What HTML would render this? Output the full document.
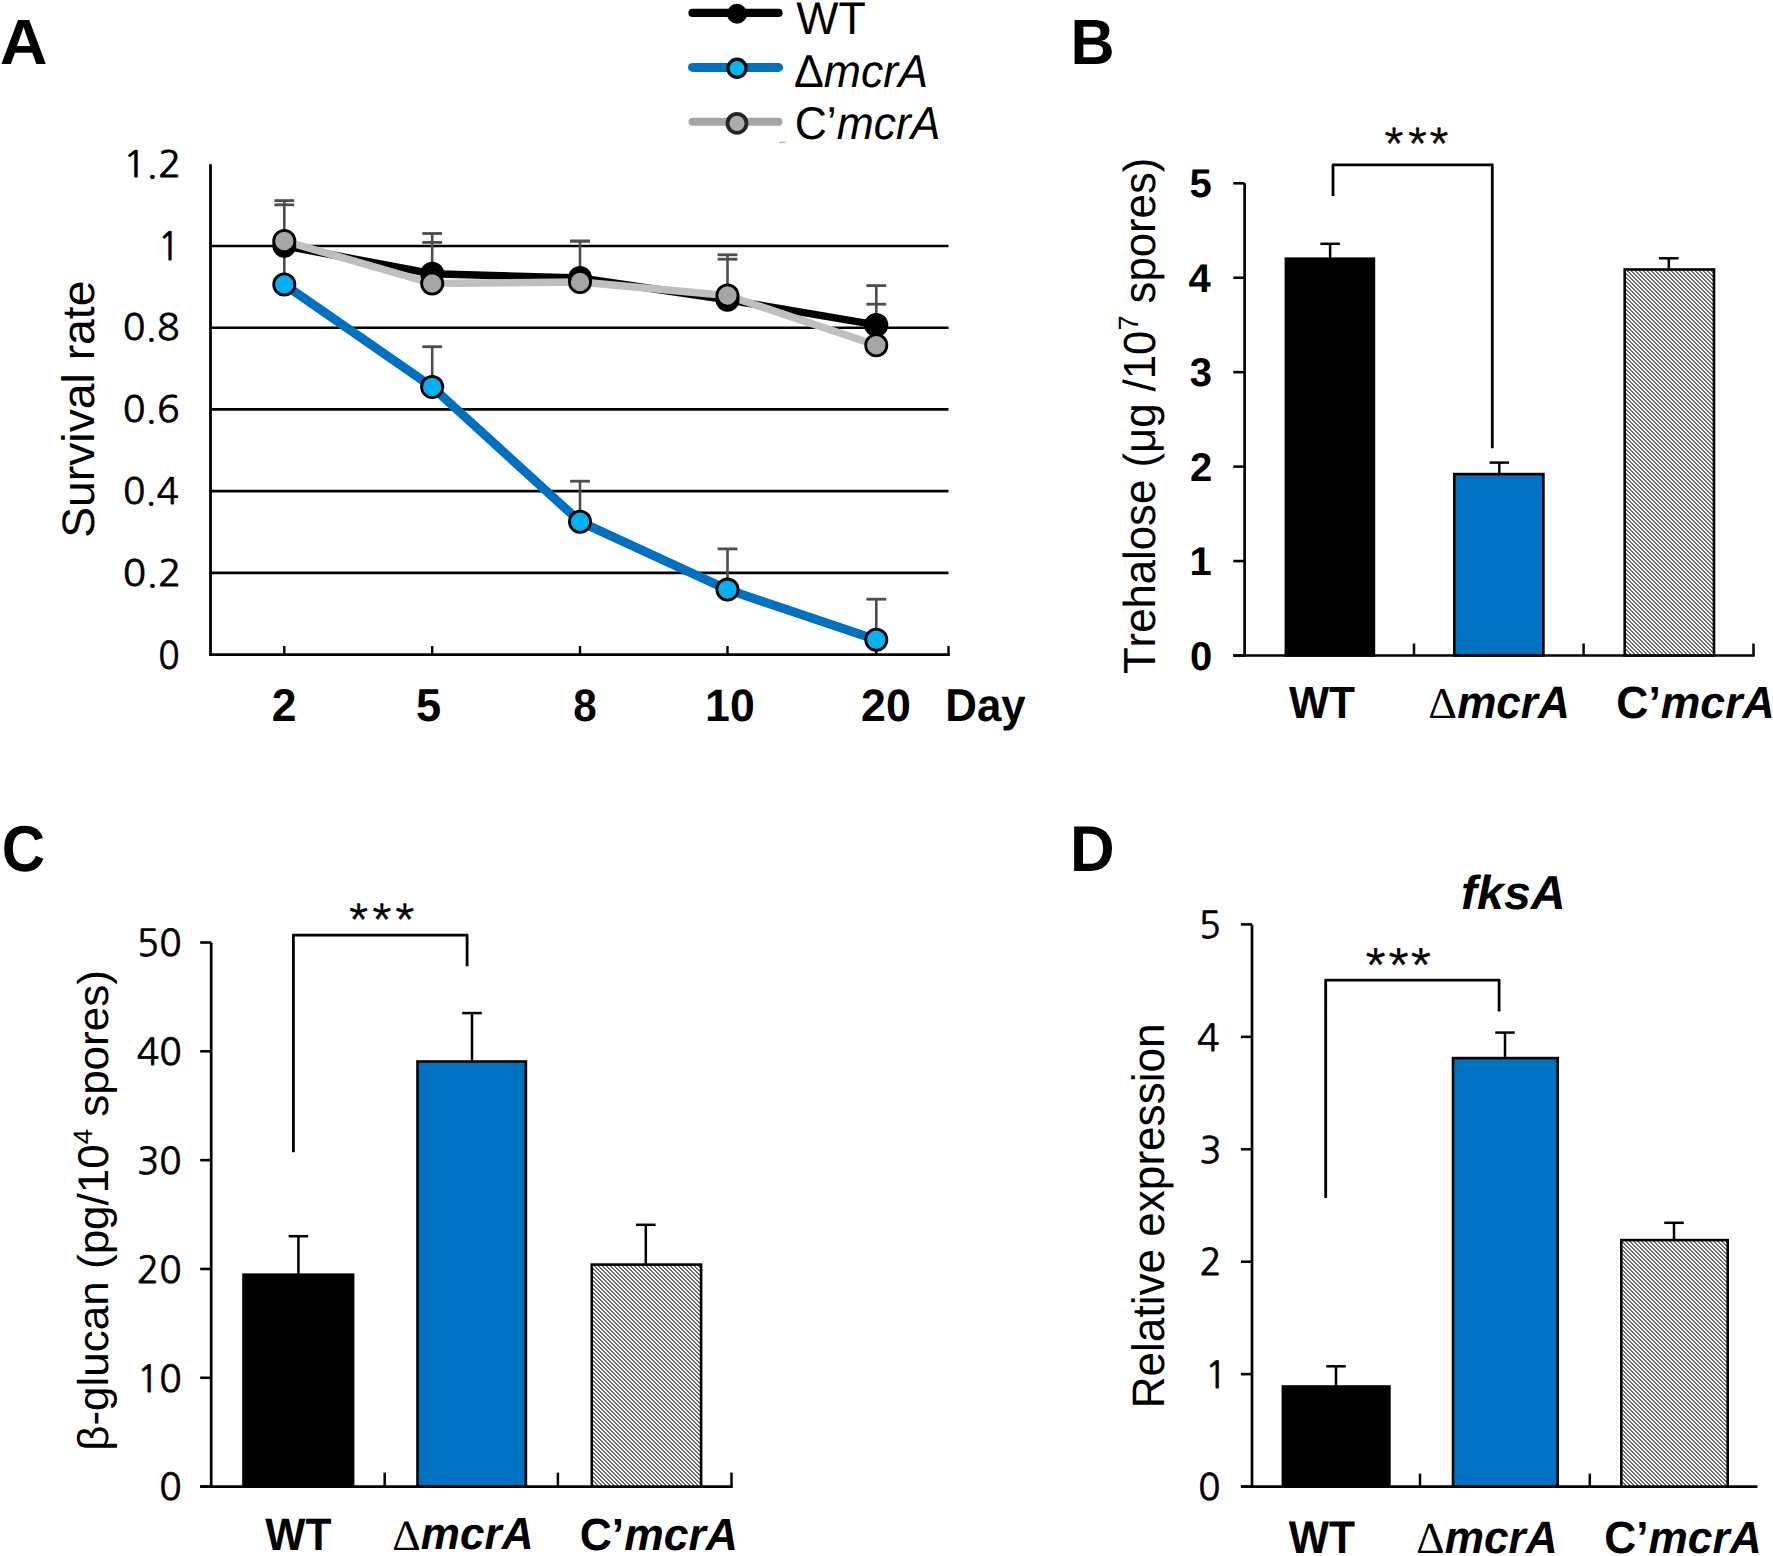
<!DOCTYPE html><html><head><meta charset="utf-8"><style>html,body{margin:0;padding:0;background:#fff;overflow:hidden}svg{display:block}text{font-family:"Liberation Sans", Arial, sans-serif;font-kerning:none;text-rendering:geometricPrecision}</style></head><body>
<svg width="1773" height="1556" viewBox="0 0 1773 1556">
<defs><filter id="soft" x="-10%" y="-10%" width="120%" height="120%"><feGaussianBlur stdDeviation="0.6"/></filter><pattern id="hatch" patternUnits="userSpaceOnUse" x="0" y="0" width="4" height="4"><rect width="4" height="4" fill="#fff"/><rect x="0" y="0" width="1" height="1" fill="#6e6e6e"/><rect x="1" y="0" width="1" height="1" fill="#6e6e6e"/><rect x="1" y="1" width="1" height="1" fill="#6e6e6e"/><rect x="2" y="1" width="1" height="1" fill="#6e6e6e"/><rect x="2" y="2" width="1" height="1" fill="#6e6e6e"/><rect x="3" y="2" width="1" height="1" fill="#6e6e6e"/><rect x="3" y="3" width="1" height="1" fill="#6e6e6e"/><rect x="0" y="3" width="1" height="1" fill="#6e6e6e"/></pattern></defs>
<rect width="1773" height="1556" fill="#fff"/>
<text transform="translate(-0.25,64.30) scale(1.0372,1)" font-size="63.809" fill="#000"><tspan font-weight="bold">A</tspan></text>
<text transform="translate(1070.41,64.30) scale(0.9563,1)" font-size="63.955" fill="#000"><tspan font-weight="bold">B</tspan></text>
<text transform="translate(1.64,870.77) scale(0.9228,1)" font-size="64.971" fill="#000"><tspan font-weight="bold">C</tspan></text>
<text transform="translate(1070.07,870.60) scale(0.9576,1)" font-size="64.536" fill="#000"><tspan font-weight="bold">D</tspan></text>
<line x1="210.50" y1="572.84" x2="948.50" y2="572.84" stroke="#000" stroke-width="2.60" stroke-linecap="butt"/>
<line x1="210.50" y1="491.13" x2="948.50" y2="491.13" stroke="#000" stroke-width="2.60" stroke-linecap="butt"/>
<line x1="210.50" y1="409.41" x2="948.50" y2="409.41" stroke="#000" stroke-width="2.60" stroke-linecap="butt"/>
<line x1="210.50" y1="327.70" x2="948.50" y2="327.70" stroke="#000" stroke-width="2.60" stroke-linecap="butt"/>
<line x1="210.50" y1="245.99" x2="948.50" y2="245.99" stroke="#000" stroke-width="2.60" stroke-linecap="butt"/>
<line x1="210.50" y1="164.28" x2="210.50" y2="655.85" stroke="#000" stroke-width="2.80" stroke-linecap="butt"/>
<line x1="209.10" y1="654.55" x2="949.80" y2="654.55" stroke="#000" stroke-width="2.80" stroke-linecap="butt"/>
<line x1="284.30" y1="654.55" x2="284.30" y2="646.05" stroke="#000" stroke-width="2.40" stroke-linecap="butt"/>
<line x1="432.20" y1="654.55" x2="432.20" y2="646.05" stroke="#000" stroke-width="2.40" stroke-linecap="butt"/>
<line x1="580.00" y1="654.55" x2="580.00" y2="646.05" stroke="#000" stroke-width="2.40" stroke-linecap="butt"/>
<line x1="727.50" y1="654.55" x2="727.50" y2="646.05" stroke="#000" stroke-width="2.40" stroke-linecap="butt"/>
<line x1="876.30" y1="654.55" x2="876.30" y2="646.05" stroke="#000" stroke-width="2.40" stroke-linecap="butt"/>
<line x1="948.50" y1="654.55" x2="948.50" y2="646.05" stroke="#000" stroke-width="2.40" stroke-linecap="butt"/>
<text transform="translate(158.20,668.73) scale(0.9236,1)" font-size="38.228" fill="#000" stroke="#000" stroke-width="0.7" stroke-linejoin="round"><tspan font-family="NanumGothic, Liberation Sans, sans-serif">0</tspan></text>
<text transform="translate(122.80,585.62) scale(1.0646,1)" font-size="36.261" fill="#000" stroke="#000" stroke-width="0.7" stroke-linejoin="round"><tspan font-family="NanumGothic, Liberation Sans, sans-serif">0.2</tspan></text>
<text transform="translate(122.90,503.90) scale(1.0163,1)" font-size="36.352" fill="#000" stroke="#000" stroke-width="0.7" stroke-linejoin="round"><tspan font-family="NanumGothic, Liberation Sans, sans-serif">0.4</tspan></text>
<text transform="translate(122.86,422.20) scale(1.0349,1)" font-size="36.261" fill="#000" stroke="#000" stroke-width="0.7" stroke-linejoin="round"><tspan font-family="NanumGothic, Liberation Sans, sans-serif">0.6</tspan></text>
<text transform="translate(122.87,340.48) scale(1.0320,1)" font-size="36.261" fill="#000" stroke="#000" stroke-width="0.7" stroke-linejoin="round"><tspan font-family="NanumGothic, Liberation Sans, sans-serif">0.8</tspan></text>
<text transform="translate(157.86,260.32) scale(0.9438,1)" font-size="38.740" fill="#000" stroke="#000" stroke-width="0.7" stroke-linejoin="round"><tspan font-family="NanumGothic, Liberation Sans, sans-serif">1</tspan></text>
<text transform="translate(122.88,177.06) scale(1.0630,1)" font-size="36.261" fill="#000" stroke="#000" stroke-width="0.7" stroke-linejoin="round"><tspan font-family="NanumGothic, Liberation Sans, sans-serif">1.2</tspan></text>
<text transform="translate(271.76,721.40) scale(0.9669,1)" font-size="45.973" fill="#000"><tspan font-weight="bold">2</tspan></text>
<text transform="translate(416.11,720.95) scale(0.9830,1)" font-size="46.005" fill="#000"><tspan font-weight="bold">5</tspan></text>
<text transform="translate(573.26,720.96) scale(0.9293,1)" font-size="45.338" fill="#000"><tspan font-weight="bold">8</tspan></text>
<text transform="translate(705.09,720.96) scale(0.9844,1)" font-size="45.338" fill="#000"><tspan font-weight="bold">10</tspan></text>
<text transform="translate(861.05,720.96) scale(0.9851,1)" font-size="45.338" fill="#000"><tspan font-weight="bold">20</tspan></text>
<text transform="translate(945.37,721.40) scale(0.9524,1)" font-size="46.000" fill="#000"><tspan font-weight="bold">Day</tspan></text>
<text transform="translate(93.90,537.80) rotate(-90) scale(1.0173,1)" font-size="45.500" fill="#000"><tspan>Survival rate</tspan></text>
<path d="M284.30,245.80 L432.20,273.80 L580.00,278.00 L727.50,299.70 L876.30,324.90" stroke="#000" stroke-width="7.50" fill="none" stroke-linejoin="round" stroke-linecap="round"/>
<path d="M284.30,284.50 L432.20,387.00 L580.00,521.70 L727.50,589.60 L876.30,639.80" stroke="#0070C0" stroke-width="9.00" fill="none" stroke-linejoin="round" stroke-linecap="round"/>
<path d="M284.30,241.00 L432.20,283.50 L580.00,282.00 L727.50,295.50 L876.30,345.30" stroke="#BFBFBF" stroke-width="7.50" fill="none" stroke-linejoin="round" stroke-linecap="round"/>
<line x1="284.30" y1="284.50" x2="284.30" y2="200.60" stroke="#4d4d4d" stroke-width="2.60" stroke-linecap="butt"/>
<line x1="274.40" y1="200.60" x2="294.20" y2="200.60" stroke="#4d4d4d" stroke-width="2.80" stroke-linecap="butt"/>
<line x1="274.40" y1="204.80" x2="294.20" y2="204.80" stroke="#4d4d4d" stroke-width="2.80" stroke-linecap="butt"/>
<line x1="432.20" y1="283.50" x2="432.20" y2="233.50" stroke="#4d4d4d" stroke-width="2.60" stroke-linecap="butt"/>
<line x1="422.30" y1="233.50" x2="442.10" y2="233.50" stroke="#4d4d4d" stroke-width="2.80" stroke-linecap="butt"/>
<line x1="422.30" y1="242.40" x2="442.10" y2="242.40" stroke="#4d4d4d" stroke-width="2.80" stroke-linecap="butt"/>
<line x1="432.20" y1="387.00" x2="432.20" y2="346.70" stroke="#4d4d4d" stroke-width="2.60" stroke-linecap="butt"/>
<line x1="422.30" y1="346.70" x2="442.10" y2="346.70" stroke="#4d4d4d" stroke-width="2.80" stroke-linecap="butt"/>
<line x1="580.00" y1="282.00" x2="580.00" y2="241.10" stroke="#4d4d4d" stroke-width="2.60" stroke-linecap="butt"/>
<line x1="570.10" y1="241.10" x2="589.90" y2="241.10" stroke="#4d4d4d" stroke-width="2.80" stroke-linecap="butt"/>
<line x1="570.10" y1="241.10" x2="589.90" y2="241.10" stroke="#4d4d4d" stroke-width="2.80" stroke-linecap="butt"/>
<line x1="580.00" y1="521.70" x2="580.00" y2="481.20" stroke="#4d4d4d" stroke-width="2.60" stroke-linecap="butt"/>
<line x1="570.10" y1="481.20" x2="589.90" y2="481.20" stroke="#4d4d4d" stroke-width="2.80" stroke-linecap="butt"/>
<line x1="727.50" y1="299.70" x2="727.50" y2="254.80" stroke="#4d4d4d" stroke-width="2.60" stroke-linecap="butt"/>
<line x1="717.60" y1="254.80" x2="737.40" y2="254.80" stroke="#4d4d4d" stroke-width="2.80" stroke-linecap="butt"/>
<line x1="717.60" y1="259.20" x2="737.40" y2="259.20" stroke="#4d4d4d" stroke-width="2.80" stroke-linecap="butt"/>
<line x1="727.50" y1="589.60" x2="727.50" y2="548.90" stroke="#4d4d4d" stroke-width="2.60" stroke-linecap="butt"/>
<line x1="717.60" y1="548.90" x2="737.40" y2="548.90" stroke="#4d4d4d" stroke-width="2.80" stroke-linecap="butt"/>
<line x1="876.30" y1="345.30" x2="876.30" y2="285.60" stroke="#4d4d4d" stroke-width="2.60" stroke-linecap="butt"/>
<line x1="866.40" y1="285.60" x2="886.20" y2="285.60" stroke="#4d4d4d" stroke-width="2.80" stroke-linecap="butt"/>
<line x1="866.40" y1="304.20" x2="886.20" y2="304.20" stroke="#4d4d4d" stroke-width="2.80" stroke-linecap="butt"/>
<line x1="876.30" y1="639.80" x2="876.30" y2="599.20" stroke="#4d4d4d" stroke-width="2.60" stroke-linecap="butt"/>
<line x1="866.40" y1="599.20" x2="886.20" y2="599.20" stroke="#4d4d4d" stroke-width="2.80" stroke-linecap="butt"/>
<circle cx="284.30" cy="245.80" r="10.6" fill="#000" stroke="#000" stroke-width="2.8"/>
<circle cx="432.20" cy="273.80" r="10.6" fill="#000" stroke="#000" stroke-width="2.8"/>
<circle cx="580.00" cy="278.00" r="10.6" fill="#000" stroke="#000" stroke-width="2.8"/>
<circle cx="727.50" cy="299.70" r="10.6" fill="#000" stroke="#000" stroke-width="2.8"/>
<circle cx="876.30" cy="324.90" r="10.6" fill="#000" stroke="#000" stroke-width="2.8"/>
<circle cx="284.30" cy="284.50" r="10.6" fill="#00B0F0" stroke="#000" stroke-width="2.8"/>
<circle cx="432.20" cy="387.00" r="10.6" fill="#00B0F0" stroke="#000" stroke-width="2.8"/>
<circle cx="580.00" cy="521.70" r="10.6" fill="#00B0F0" stroke="#000" stroke-width="2.8"/>
<circle cx="727.50" cy="589.60" r="10.6" fill="#00B0F0" stroke="#000" stroke-width="2.8"/>
<circle cx="876.30" cy="639.80" r="10.6" fill="#00B0F0" stroke="#000" stroke-width="2.8"/>
<circle cx="284.30" cy="241.00" r="10.6" fill="#A6A6A6" stroke="#000" stroke-width="2.8"/>
<circle cx="432.20" cy="283.50" r="10.6" fill="#A6A6A6" stroke="#000" stroke-width="2.8"/>
<circle cx="580.00" cy="282.00" r="10.6" fill="#A6A6A6" stroke="#000" stroke-width="2.8"/>
<circle cx="727.50" cy="295.50" r="10.6" fill="#A6A6A6" stroke="#000" stroke-width="2.8"/>
<circle cx="876.30" cy="345.30" r="10.6" fill="#A6A6A6" stroke="#000" stroke-width="2.8"/>
<g filter="url(#soft)">
<line x1="692.50" y1="12.90" x2="778.50" y2="12.90" stroke="#000" stroke-width="8.20" stroke-linecap="round"/>
<circle cx="737" cy="13.8" r="10" fill="#000"/>
<line x1="692.50" y1="67.40" x2="778.50" y2="67.40" stroke="#0070C0" stroke-width="9.00" stroke-linecap="round"/>
<circle cx="737" cy="68.3" r="9.0" fill="#00B8F4" stroke="#111" stroke-width="3.4"/>
<line x1="692.50" y1="121.80" x2="778.50" y2="121.80" stroke="#A6A6A6" stroke-width="8.00" stroke-linecap="round"/>
<circle cx="737" cy="123.3" r="9.5" fill="#ADADAD" stroke="#262626" stroke-width="3.8"/>
<rect x="779.2" y="141.6" width="6.5" height="1.6" fill="#bbb"/>
</g>
<text transform="translate(796.30,33.70) scale(0.9798,1)" font-size="45.640" fill="#000"><tspan>WT</tspan></text>
<text transform="translate(794.07,87.40) scale(0.9694,1)" font-size="46.000" fill="#000"><tspan>Δ</tspan><tspan font-style="italic">mcrA</tspan></text>
<text transform="translate(794.74,139.30) scale(0.9654,1)" font-size="46.000" fill="#000"><tspan>C’</tspan><tspan font-style="italic">mcrA</tspan></text>
<line x1="1244.60" y1="183.30" x2="1244.60" y2="656.80" stroke="#000" stroke-width="2.70" stroke-linecap="butt"/>
<line x1="1233.30" y1="655.50" x2="1754.80" y2="655.50" stroke="#000" stroke-width="2.70" stroke-linecap="butt"/>
<line x1="1233.30" y1="655.50" x2="1244.60" y2="655.50" stroke="#000" stroke-width="2.60" stroke-linecap="butt"/>
<line x1="1233.30" y1="561.06" x2="1244.60" y2="561.06" stroke="#000" stroke-width="2.60" stroke-linecap="butt"/>
<line x1="1233.30" y1="466.62" x2="1244.60" y2="466.62" stroke="#000" stroke-width="2.60" stroke-linecap="butt"/>
<line x1="1233.30" y1="372.18" x2="1244.60" y2="372.18" stroke="#000" stroke-width="2.60" stroke-linecap="butt"/>
<line x1="1233.30" y1="277.74" x2="1244.60" y2="277.74" stroke="#000" stroke-width="2.60" stroke-linecap="butt"/>
<line x1="1233.30" y1="183.30" x2="1244.60" y2="183.30" stroke="#000" stroke-width="2.60" stroke-linecap="butt"/>
<line x1="1414.00" y1="655.50" x2="1414.00" y2="643.50" stroke="#000" stroke-width="2.50" stroke-linecap="butt"/>
<line x1="1583.60" y1="655.50" x2="1583.60" y2="643.50" stroke="#000" stroke-width="2.50" stroke-linecap="butt"/>
<line x1="1753.50" y1="655.50" x2="1753.50" y2="643.50" stroke="#000" stroke-width="2.50" stroke-linecap="butt"/>
<text transform="translate(1189.99,669.50) scale(1.0000,1)" font-size="40.000" fill="#000"><tspan font-weight="bold">0</tspan></text>
<text transform="translate(1189.47,575.06) scale(1.0000,1)" font-size="40.000" fill="#000"><tspan font-weight="bold">1</tspan></text>
<text transform="translate(1189.96,480.62) scale(1.0000,1)" font-size="40.000" fill="#000"><tspan font-weight="bold">2</tspan></text>
<text transform="translate(1189.80,386.18) scale(1.0000,1)" font-size="40.000" fill="#000"><tspan font-weight="bold">3</tspan></text>
<text transform="translate(1188.57,291.74) scale(1.0000,1)" font-size="40.000" fill="#000"><tspan font-weight="bold">4</tspan></text>
<text transform="translate(1189.47,197.30) scale(1.0000,1)" font-size="40.000" fill="#000"><tspan font-weight="bold">5</tspan></text>
<rect x="1285.90" y="258.70" width="88.00" height="396.80" fill="#000" stroke="#000" stroke-width="2.60"/>
<rect x="1454.30" y="474.10" width="89.10" height="181.40" fill="#0070C0" stroke="#000" stroke-width="2.60"/>
<rect x="1624.70" y="269.50" width="89.30" height="386.00" fill="url(#hatch)" stroke="#000" stroke-width="2.60"/>
<line x1="1330.10" y1="258.50" x2="1330.10" y2="243.80" stroke="#000" stroke-width="2.50" stroke-linecap="butt"/>
<line x1="1320.35" y1="243.80" x2="1339.85" y2="243.80" stroke="#000" stroke-width="2.50" stroke-linecap="butt"/>
<line x1="1499.30" y1="474.00" x2="1499.30" y2="462.60" stroke="#000" stroke-width="2.50" stroke-linecap="butt"/>
<line x1="1489.55" y1="462.60" x2="1509.05" y2="462.60" stroke="#000" stroke-width="2.50" stroke-linecap="butt"/>
<line x1="1668.80" y1="269.50" x2="1668.80" y2="258.30" stroke="#000" stroke-width="2.50" stroke-linecap="butt"/>
<line x1="1659.05" y1="258.30" x2="1678.55" y2="258.30" stroke="#000" stroke-width="2.50" stroke-linecap="butt"/>
<path d="M1333.0,196.0 V164.9 H1492.3 V448.2" stroke="#000" stroke-width="2.80" fill="none" stroke-linejoin="round" stroke-linecap="butt"/>
<text transform="translate(1380.90,151.66) scale(1.0018,1)" font-size="42.359" fill="#000" stroke="#000" stroke-width="0.5" stroke-linejoin="round"><tspan font-family="NanumGothic, Liberation Sans, sans-serif">*</tspan></text>
<text transform="translate(1404.50,151.66) scale(1.0018,1)" font-size="42.359" fill="#000" stroke="#000" stroke-width="0.5" stroke-linejoin="round"><tspan font-family="NanumGothic, Liberation Sans, sans-serif">*</tspan></text>
<text transform="translate(1426.00,151.66) scale(1.0018,1)" font-size="42.359" fill="#000" stroke="#000" stroke-width="0.5" stroke-linejoin="round"><tspan font-family="NanumGothic, Liberation Sans, sans-serif">*</tspan></text>
<text transform="translate(1154.50,674.08) rotate(-90) scale(0.9713,1)" font-size="45.000" fill="#000"><tspan>Trehalose (μg /10</tspan><tspan font-size="27.900" dy="-16.200">7</tspan><tspan dy="16.200"> spores)</tspan></text>
<text transform="translate(1288.96,718.10) scale(0.9436,1)" font-size="45.059" fill="#000"><tspan font-weight="bold">WT</tspan></text>
<text transform="translate(1428.20,717.90) scale(1.0186,1)" font-size="43.778" fill="#000"><tspan font-family="Liberation Serif, serif">Δ</tspan></text>
<text transform="translate(1457.15,717.56) scale(0.9706,1)" font-size="45.431" fill="#000"><tspan font-weight="bold" font-style="italic">mcrA</tspan></text>
<text transform="translate(1616.27,718.40) scale(0.9893,1)" font-size="45.000" fill="#000"><tspan font-weight="bold">C’</tspan><tspan font-weight="bold" font-style="italic">mcrA</tspan></text>
<line x1="211.20" y1="942.50" x2="211.20" y2="1487.90" stroke="#000" stroke-width="2.70" stroke-linecap="butt"/>
<line x1="200.20" y1="1486.60" x2="732.80" y2="1486.60" stroke="#000" stroke-width="2.70" stroke-linecap="butt"/>
<line x1="200.20" y1="1486.60" x2="211.20" y2="1486.60" stroke="#000" stroke-width="2.60" stroke-linecap="butt"/>
<line x1="200.20" y1="1377.78" x2="211.20" y2="1377.78" stroke="#000" stroke-width="2.60" stroke-linecap="butt"/>
<line x1="200.20" y1="1268.96" x2="211.20" y2="1268.96" stroke="#000" stroke-width="2.60" stroke-linecap="butt"/>
<line x1="200.20" y1="1160.14" x2="211.20" y2="1160.14" stroke="#000" stroke-width="2.60" stroke-linecap="butt"/>
<line x1="200.20" y1="1051.32" x2="211.20" y2="1051.32" stroke="#000" stroke-width="2.60" stroke-linecap="butt"/>
<line x1="200.20" y1="942.50" x2="211.20" y2="942.50" stroke="#000" stroke-width="2.60" stroke-linecap="butt"/>
<line x1="384.70" y1="1486.60" x2="384.70" y2="1472.60" stroke="#000" stroke-width="2.50" stroke-linecap="butt"/>
<line x1="557.90" y1="1486.60" x2="557.90" y2="1472.60" stroke="#000" stroke-width="2.50" stroke-linecap="butt"/>
<line x1="731.50" y1="1486.60" x2="731.50" y2="1472.60" stroke="#000" stroke-width="2.50" stroke-linecap="butt"/>
<text transform="translate(159.17,1500.39) scale(1.0000,1)" font-size="37.169" fill="#000" stroke="#000" stroke-width="0.7" stroke-linejoin="round"><tspan font-family="NanumGothic, Liberation Sans, sans-serif">0</tspan></text>
<text transform="translate(136.65,1391.57) scale(1.0000,1)" font-size="37.169" fill="#000" stroke="#000" stroke-width="0.7" stroke-linejoin="round"><tspan font-family="NanumGothic, Liberation Sans, sans-serif">10</tspan></text>
<text transform="translate(136.76,1282.75) scale(1.0000,1)" font-size="37.071" fill="#000" stroke="#000" stroke-width="0.7" stroke-linejoin="round"><tspan font-family="NanumGothic, Liberation Sans, sans-serif">20</tspan></text>
<text transform="translate(136.93,1173.82) scale(1.0000,1)" font-size="36.922" fill="#000" stroke="#000" stroke-width="0.7" stroke-linejoin="round"><tspan font-family="NanumGothic, Liberation Sans, sans-serif">30</tspan></text>
<text transform="translate(136.65,1065.11) scale(1.0000,1)" font-size="37.169" fill="#000" stroke="#000" stroke-width="0.7" stroke-linejoin="round"><tspan font-family="NanumGothic, Liberation Sans, sans-serif">40</tspan></text>
<text transform="translate(136.82,956.18) scale(1.0000,1)" font-size="37.022" fill="#000" stroke="#000" stroke-width="0.7" stroke-linejoin="round"><tspan font-family="NanumGothic, Liberation Sans, sans-serif">50</tspan></text>
<rect x="243.50" y="1274.70" width="109.60" height="211.90" fill="#000" stroke="#000" stroke-width="2.60"/>
<rect x="417.50" y="1061.50" width="108.40" height="425.10" fill="#0070C0" stroke="#000" stroke-width="2.60"/>
<rect x="591.80" y="1264.60" width="109.30" height="222.00" fill="url(#hatch)" stroke="#000" stroke-width="2.60"/>
<line x1="298.40" y1="1274.50" x2="298.40" y2="1236.20" stroke="#000" stroke-width="2.50" stroke-linecap="butt"/>
<line x1="288.65" y1="1236.20" x2="308.15" y2="1236.20" stroke="#000" stroke-width="2.50" stroke-linecap="butt"/>
<line x1="472.00" y1="1061.50" x2="472.00" y2="1013.10" stroke="#000" stroke-width="2.50" stroke-linecap="butt"/>
<line x1="462.25" y1="1013.10" x2="481.75" y2="1013.10" stroke="#000" stroke-width="2.50" stroke-linecap="butt"/>
<line x1="645.80" y1="1264.50" x2="645.80" y2="1224.80" stroke="#000" stroke-width="2.50" stroke-linecap="butt"/>
<line x1="636.05" y1="1224.80" x2="655.55" y2="1224.80" stroke="#000" stroke-width="2.50" stroke-linecap="butt"/>
<path d="M293.4,1152.3 V935.2 H467.1 V966.2" stroke="#000" stroke-width="2.80" fill="none" stroke-linejoin="round" stroke-linecap="butt"/>
<text transform="translate(345.42,928.02) scale(1.0018,1)" font-size="42.627" fill="#000" stroke="#000" stroke-width="0.5" stroke-linejoin="round"><tspan font-family="NanumGothic, Liberation Sans, sans-serif">*</tspan></text>
<text transform="translate(368.72,928.02) scale(1.0018,1)" font-size="42.627" fill="#000" stroke="#000" stroke-width="0.5" stroke-linejoin="round"><tspan font-family="NanumGothic, Liberation Sans, sans-serif">*</tspan></text>
<text transform="translate(391.72,928.02) scale(1.0018,1)" font-size="42.627" fill="#000" stroke="#000" stroke-width="0.5" stroke-linejoin="round"><tspan font-family="NanumGothic, Liberation Sans, sans-serif">*</tspan></text>
<text transform="translate(107.60,1450.85) rotate(-90) scale(1.0232,1)" font-size="43.000" fill="#000"><tspan>β-glucan (pg/10</tspan><tspan font-size="26.660" dy="-15.480">4</tspan><tspan dy="15.480"> spores)</tspan></text>
<text transform="translate(265.36,1550.00) scale(0.9345,1)" font-size="45.495" fill="#000"><tspan font-weight="bold">WT</tspan></text>
<text transform="translate(392.32,1549.70) scale(1.0211,1)" font-size="43.323" fill="#000"><tspan font-family="Liberation Serif, serif">Δ</tspan></text>
<text transform="translate(420.85,1549.46) scale(0.9790,1)" font-size="45.002" fill="#000"><tspan font-weight="bold" font-style="italic">mcrA</tspan></text>
<text transform="translate(579.68,1549.60) scale(0.9887,1)" font-size="45.000" fill="#000"><tspan font-weight="bold">C’</tspan><tspan font-weight="bold" font-style="italic">mcrA</tspan></text>
<line x1="1252.00" y1="924.40" x2="1252.00" y2="1487.90" stroke="#000" stroke-width="2.70" stroke-linecap="butt"/>
<line x1="1240.90" y1="1486.60" x2="1757.40" y2="1486.60" stroke="#000" stroke-width="2.70" stroke-linecap="butt"/>
<line x1="1240.90" y1="1486.60" x2="1252.00" y2="1486.60" stroke="#000" stroke-width="2.60" stroke-linecap="butt"/>
<line x1="1240.90" y1="1374.16" x2="1252.00" y2="1374.16" stroke="#000" stroke-width="2.60" stroke-linecap="butt"/>
<line x1="1240.90" y1="1261.72" x2="1252.00" y2="1261.72" stroke="#000" stroke-width="2.60" stroke-linecap="butt"/>
<line x1="1240.90" y1="1149.28" x2="1252.00" y2="1149.28" stroke="#000" stroke-width="2.60" stroke-linecap="butt"/>
<line x1="1240.90" y1="1036.84" x2="1252.00" y2="1036.84" stroke="#000" stroke-width="2.60" stroke-linecap="butt"/>
<line x1="1240.90" y1="924.40" x2="1252.00" y2="924.40" stroke="#000" stroke-width="2.60" stroke-linecap="butt"/>
<line x1="1420.00" y1="1486.60" x2="1420.00" y2="1473.60" stroke="#000" stroke-width="2.50" stroke-linecap="butt"/>
<line x1="1589.80" y1="1486.60" x2="1589.80" y2="1473.60" stroke="#000" stroke-width="2.50" stroke-linecap="butt"/>
<text transform="translate(1198.16,1500.19) scale(1.0000,1)" font-size="36.640" fill="#000" stroke="#000" stroke-width="0.7" stroke-linejoin="round"><tspan font-family="NanumGothic, Liberation Sans, sans-serif">0</tspan></text>
<text transform="translate(1204.65,1387.90) scale(1.0000,1)" font-size="37.131" fill="#000" stroke="#000" stroke-width="0.7" stroke-linejoin="round"><tspan font-family="NanumGothic, Liberation Sans, sans-serif">1</tspan></text>
<text transform="translate(1199.54,1275.46) scale(1.0000,1)" font-size="36.737" fill="#000" stroke="#000" stroke-width="0.7" stroke-linejoin="round"><tspan font-family="NanumGothic, Liberation Sans, sans-serif">2</tspan></text>
<text transform="translate(1199.50,1162.76) scale(1.0000,1)" font-size="36.397" fill="#000" stroke="#000" stroke-width="0.7" stroke-linejoin="round"><tspan font-family="NanumGothic, Liberation Sans, sans-serif">3</tspan></text>
<text transform="translate(1197.07,1050.58) scale(1.0000,1)" font-size="37.131" fill="#000" stroke="#000" stroke-width="0.7" stroke-linejoin="round"><tspan font-family="NanumGothic, Liberation Sans, sans-serif">4</tspan></text>
<text transform="translate(1198.74,937.88) scale(1.0000,1)" font-size="36.786" fill="#000" stroke="#000" stroke-width="0.7" stroke-linejoin="round"><tspan font-family="NanumGothic, Liberation Sans, sans-serif">5</tspan></text>
<rect x="1282.90" y="1386.50" width="106.50" height="100.10" fill="#000" stroke="#000" stroke-width="2.60"/>
<rect x="1453.00" y="1058.10" width="104.70" height="428.50" fill="#0070C0" stroke="#000" stroke-width="2.60"/>
<rect x="1621.30" y="1240.10" width="106.40" height="246.50" fill="url(#hatch)" stroke="#000" stroke-width="2.60"/>
<line x1="1336.00" y1="1386.50" x2="1336.00" y2="1366.30" stroke="#000" stroke-width="2.50" stroke-linecap="butt"/>
<line x1="1326.25" y1="1366.30" x2="1345.75" y2="1366.30" stroke="#000" stroke-width="2.50" stroke-linecap="butt"/>
<line x1="1505.00" y1="1058.00" x2="1505.00" y2="1032.60" stroke="#000" stroke-width="2.50" stroke-linecap="butt"/>
<line x1="1495.25" y1="1032.60" x2="1514.75" y2="1032.60" stroke="#000" stroke-width="2.50" stroke-linecap="butt"/>
<line x1="1674.00" y1="1240.00" x2="1674.00" y2="1222.80" stroke="#000" stroke-width="2.50" stroke-linecap="butt"/>
<line x1="1664.25" y1="1222.80" x2="1683.75" y2="1222.80" stroke="#000" stroke-width="2.50" stroke-linecap="butt"/>
<path d="M1325.7,1197.9 V980.1 H1499.1 V1011.4" stroke="#000" stroke-width="2.80" fill="none" stroke-linejoin="round" stroke-linecap="butt"/>
<text transform="translate(1361.68,973.70) scale(1.0017,1)" font-size="45.040" fill="#000" stroke="#000" stroke-width="0.5" stroke-linejoin="round"><tspan font-family="NanumGothic, Liberation Sans, sans-serif">*</tspan></text>
<text transform="translate(1384.68,973.70) scale(1.0017,1)" font-size="45.040" fill="#000" stroke="#000" stroke-width="0.5" stroke-linejoin="round"><tspan font-family="NanumGothic, Liberation Sans, sans-serif">*</tspan></text>
<text transform="translate(1406.88,973.70) scale(1.0017,1)" font-size="45.040" fill="#000" stroke="#000" stroke-width="0.5" stroke-linejoin="round"><tspan font-family="NanumGothic, Liberation Sans, sans-serif">*</tspan></text>
<text transform="translate(1460.95,909.43) scale(1.0139,1)" font-size="47.660" fill="#000"><tspan font-weight="bold" font-style="italic">fksA</tspan></text>
<text transform="translate(1164.30,1408.32) rotate(-90) scale(0.9693,1)" font-size="45.500" fill="#000"><tspan>Relative expression</tspan></text>
<text transform="translate(1288.76,1553.40) scale(0.9285,1)" font-size="45.931" fill="#000"><tspan font-weight="bold">WT</tspan></text>
<text transform="translate(1416.22,1553.30) scale(0.9928,1)" font-size="44.383" fill="#000"><tspan font-family="Liberation Serif, serif">Δ</tspan></text>
<text transform="translate(1444.65,1552.85) scale(0.9694,1)" font-size="45.575" fill="#000"><tspan font-weight="bold" font-style="italic">mcrA</tspan></text>
<text transform="translate(1604.29,1553.40) scale(0.9829,1)" font-size="45.000" fill="#000"><tspan font-weight="bold">C’</tspan><tspan font-weight="bold" font-style="italic">mcrA</tspan></text>
</svg></body></html>
